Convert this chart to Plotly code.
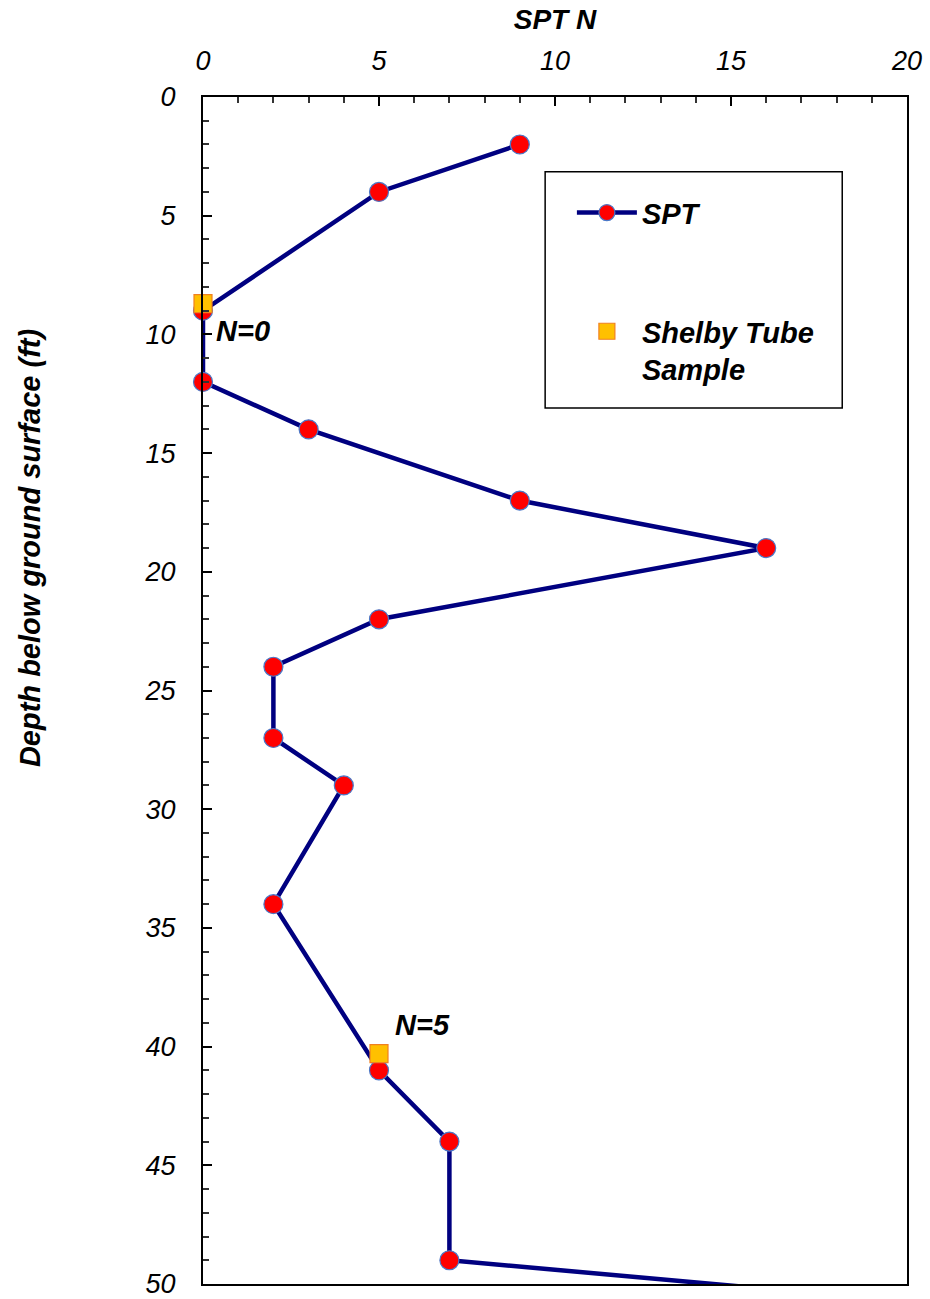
import plotly.graph_objects as go

# SPT data
spt_depth = [2, 4, 9, 12, 14, 17, 19, 22, 24, 27, 29, 34, 41, 44, 49, 51]
spt_n = [9, 5, 0, 0, 3, 9, 16, 5, 2, 2, 4, 2, 5, 7, 7, 22]

# Shelby tube samples
shelby_depth = [8.7, 40.3]
shelby_n = [0, 5]

# annotations
note_text = ["N=0", "N=5"]
note_n = [0.3, 5.4]
note_depth = [9.85, 39.1]

x_ticks = [0, 5, 10, 15, 20]
y_ticks = [0, 5, 10, 15, 20, 25, 30, 35, 40, 45, 50]

FONT = "Liberation Sans, Arial, sans-serif"

fig = go.Figure()
fig.add_trace(go.Scatter(
    x=spt_n, y=spt_depth, mode="lines+markers", name="SPT",
    line=dict(color="#000080", width=4.5),
    marker=dict(symbol="circle", size=19, color="#FF0000",
                line=dict(color="#4A78C8", width=1.2)),
    legendgroup="a", cliponaxis=False,
))
fig.add_trace(go.Scatter(
    x=shelby_n, y=shelby_depth, mode="markers", name="Shelby Tube<br>Sample",
    marker=dict(symbol="square", size=18, color="#FFC000",
                line=dict(color="#F08020", width=1.2)),
    legendgroup="b", cliponaxis=False,
))

for t, xn, yd in zip(note_text, note_n, note_depth):
    fig.add_annotation(x=xn, y=yd, text=t, showarrow=False, xanchor="left",
                       font=dict(family=FONT, size=29, color="black",
                                 weight="bold", style="italic"))

# y-axis title (placed as in the reference, not centred on the axis)
fig.add_annotation(xref="paper", yref="paper", x=-0.2457, y=0.620,
                   text="Depth below ground surface (ft)", textangle=-90,
                   showarrow=False, xanchor="center", yanchor="middle",
                   font=dict(family=FONT, size=29, color="black",
                             weight="bold", style="italic"))

# legend frame
fig.add_shape(type="rect", xref="paper", yref="paper",
              x0=0.486, x1=0.908, y0=0.738, y1=0.937,
              line=dict(color="black", width=1.5), fillcolor="rgba(0,0,0,0)")

fig.update_layout(
    width=930, height=1299,
    margin=dict(l=203, r=23, t=97, b=15),
    paper_bgcolor="white", plot_bgcolor="white",
    font=dict(family=FONT, color="black"),
    showlegend=True,
    legend=dict(x=0.524, y=0.924, xanchor="left", yanchor="top",
                bgcolor="rgba(0,0,0,0)", borderwidth=0,
                traceorder="grouped", tracegroupgap=78,
                itemwidth=60, valign="top",
                font=dict(family=FONT, size=29, weight="bold", style="italic")),
    xaxis=dict(
        side="top", range=[0, 20], tickvals=x_ticks,
        ticktext=[str(v) for v in x_ticks],
        showgrid=False, zeroline=False, automargin=False,
        showline=True, linecolor="black", linewidth=2, mirror=True,
        ticks="inside", ticklen=9, tickwidth=1.5, tickcolor="black",
        minor=dict(dtick=1, ticks="inside", ticklen=6, tickwidth=1.5, tickcolor="#333"),
        tickfont=dict(family=FONT, size=27, style="italic"),
        ticklabelstandoff=14, ticklabeloverflow="allow",
        title=dict(text="SPT N", standoff=8,
                   font=dict(family=FONT, size=28, weight="bold", style="italic")),
    ),
    yaxis=dict(
        range=[50, 0], tickvals=y_ticks,
        ticktext=[str(v) for v in y_ticks],
        showgrid=False, zeroline=False, automargin=False,
        showline=True, linecolor="black", linewidth=2, mirror=True,
        ticks="inside", ticklen=9, tickwidth=1.5, tickcolor="black",
        minor=dict(dtick=1, ticks="inside", ticklen=6, tickwidth=1.5, tickcolor="#333"),
        tickfont=dict(family=FONT, size=27, style="italic"),
        ticklabelstandoff=20, ticklabeloverflow="allow",
    ),
)

fig.write_html("out.html")
